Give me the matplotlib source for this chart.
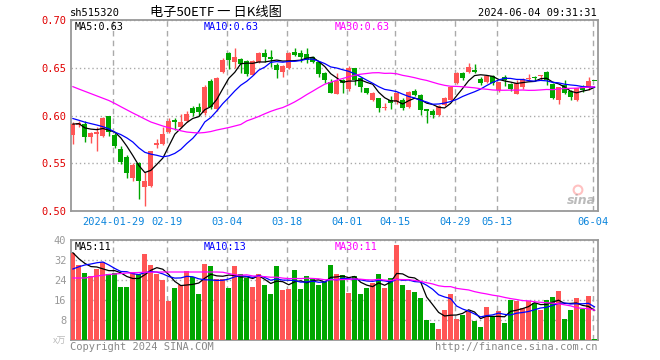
import matplotlib
matplotlib.use('Agg')
import matplotlib.pyplot as plt
import numpy as np
import pandas as pd

# daily candles, 2024-01-18 .. 2024-06-04
opens = [0.580, 0.590, 0.591, 0.578, 0.581, 0.5785, 0.5995, 0.580, 0.5646, 0.557,
         0.535, 0.550, 0.5255, 0.526, 0.569, 0.570, 0.583, 0.5953, 0.588, 0.5942,
         0.6075, 0.609, 0.6023, 0.636, 0.607, 0.646, 0.665, 0.6563, 0.659, 0.657,
         0.6427, 0.6563, 0.665, 0.6616, 0.6529, 0.6459, 0.6494, 0.666, 0.665, 0.664,
         0.661, 0.6563, 0.6448, 0.6354, 0.6225, 0.6372, 0.6274, 0.6494, 0.639, 0.6285,
         0.6162, 0.618, 0.6075, 0.6162, 0.6145, 0.6162, 0.6093, 0.626, 0.6215, 0.6065,
         0.605, 0.6005, 0.611, 0.6162, 0.6337, 0.6448, 0.6459, 0.6476, 0.6382, 0.6354,
         0.6417, 0.6267, 0.6406, 0.633, 0.623, 0.630, 0.638, 0.6398, 0.6412, 0.6459,
         0.633, 0.6162, 0.632, 0.6255, 0.6162, 0.6302, 0.6285, 0.6366]
highs = [0.593, 0.594, 0.594, 0.583, 0.588, 0.598, 0.600, 0.582, 0.568, 0.5586,
         0.5506, 0.551, 0.541, 0.563, 0.575, 0.5876, 0.597, 0.597, 0.6016, 0.6047,
         0.610, 0.613, 0.632, 0.638, 0.6406, 0.660, 0.666, 0.671, 0.660, 0.658,
         0.658, 0.666, 0.670, 0.6686, 0.655, 0.653, 0.667, 0.671, 0.669, 0.671,
         0.662, 0.657, 0.646, 0.638, 0.6442, 0.638, 0.652, 0.650, 0.640, 0.629,
         0.6245, 0.6185, 0.6128, 0.6204, 0.6245, 0.618, 0.626, 0.628, 0.622, 0.607,
         0.607, 0.611, 0.619, 0.631, 0.646, 0.646, 0.6546, 0.6535, 0.640, 0.6425,
         0.6425, 0.6355, 0.642, 0.634, 0.637, 0.639, 0.643, 0.6415, 0.642, 0.6465,
         0.634, 0.630, 0.6375, 0.627, 0.629, 0.6316, 0.6407, 0.6366]
lows = [0.570, 0.588, 0.572, 0.5715, 0.563, 0.577, 0.579, 0.5655, 0.549, 0.535,
        0.531, 0.513, 0.505, 0.525, 0.5656, 0.569, 0.582, 0.585, 0.587, 0.593,
        0.599, 0.599, 0.601, 0.607, 0.6047, 0.645, 0.649, 0.6494, 0.644, 0.641,
        0.642, 0.655, 0.6563, 0.651, 0.639, 0.640, 0.649, 0.662, 0.656, 0.655,
        0.655, 0.6406, 0.6337, 0.6235, 0.622, 0.624, 0.626, 0.632, 0.625, 0.622,
        0.615, 0.604, 0.6058, 0.607, 0.612, 0.6055, 0.608, 0.620, 0.6005, 0.5918,
        0.597, 0.5995, 0.610, 0.615, 0.633, 0.637, 0.645, 0.644, 0.632, 0.634,
        0.632, 0.625, 0.6305, 0.626, 0.622, 0.628, 0.637, 0.636, 0.637, 0.632,
        0.6175, 0.6117, 0.622, 0.6165, 0.615, 0.625, 0.627, 0.636]
closes = [0.591, 0.592, 0.578, 0.582, 0.583, 0.597, 0.583, 0.568, 0.5516, 0.5395,
          0.548, 0.531, 0.5314, 0.5628, 0.571, 0.5806, 0.594, 0.5935, 0.5935, 0.6013,
          0.6023, 0.6034, 0.630, 0.609, 0.6396, 0.658, 0.658, 0.6616, 0.6536, 0.643,
          0.657, 0.665, 0.6616, 0.659, 0.6476, 0.6518, 0.6658, 0.663, 0.6616, 0.658,
          0.6565, 0.6435, 0.637, 0.6239, 0.6361, 0.6337, 0.6494, 0.6372, 0.630, 0.6232,
          0.6239, 0.6075, 0.6085, 0.6134, 0.6232, 0.6075, 0.6249, 0.6215, 0.6058, 0.605,
          0.6005, 0.6103, 0.618, 0.6295, 0.6448, 0.639, 0.6505, 0.6453, 0.6337, 0.6417,
          0.6337, 0.6347, 0.6372, 0.6277, 0.6345, 0.638, 0.639, 0.6392, 0.6418, 0.6372,
          0.618, 0.6295, 0.6232, 0.6195, 0.6285, 0.6267, 0.6361, 0.6362]
volumes = [34.9, 30.1, 26.9, 25.6, 28.5, 31.2, 26.5, 26.9, 21.2, 21.2,
           27.2, 26.5, 34.4, 30.1, 26.5, 24.0, 15.7, 20.8, 21.9, 27.6,
           25.3, 18.4, 30.5, 29.6, 24.5, 24.5, 20.8, 29.6, 26.5, 24.9,
           21.2, 26.5, 22.1, 18.4, 29.6, 20.0, 20.4, 28.0, 20.4, 25.6,
           24.3, 22.1, 23.2, 30.1, 26.5, 26.0, 18.9, 25.6, 18.5, 20.8,
           22.9, 26.5, 20.8, 24.8, 38.1, 22.0, 20.0, 19.2, 16.8, 8.0,
           6.8, 4.4, 12.0, 18.4, 8.4, 10.0, 11.6, 7.6, 5.2, 13.2,
           9.6, 11.6, 6.8, 16.0, 15.6, 12.8, 15.6, 14.8, 12.0, 16.0,
           17.2, 19.6, 8.4, 12.0, 16.8, 12.4, 17.6, 0.4]

# averages at the left edge reach back before the first candle
price_ma10_head = [0.5968, 0.595, 0.593, 0.5915, 0.590, 0.5883, 0.586, 0.5825, 0.580]
price_ma30_head = [0.6302, 0.6277, 0.6253, 0.6229, 0.6205, 0.6181, 0.6157, 0.6126, 0.6092, 0.6059,
                   0.6026, 0.5995, 0.5963, 0.5932, 0.5911, 0.589, 0.5872, 0.5856, 0.584, 0.5827,
                   0.5821, 0.5817, 0.5822, 0.5832, 0.5848, 0.5861, 0.5874, 0.589, 0.5906]
vol_ma10_head = [28.4, 29.3, 30.0, 30.4, 30.9, 31.2, 30.0, 28.6, 27.4]
vol_ma30_head = [24.8, 24.8, 24.8, 25.2, 25.6, 25.9, 26.2, 26.4, 26.6, 26.8,
                 26.9, 27.0, 27.1, 27.1, 27.2, 27.2, 27.2, 27.2, 27.2, 27.2,
                 27.2, 27.2, 27.2, 27.2, 27.2, 27.1, 26.6, 26.1, 25.9]

tick_idx = [7, 16, 26, 36, 46, 54, 64, 71, 87]
tick_labels = ['2024-01-29', '02-19', '03-04', '03-18', '04-01', '04-15', '04-29', '05-13', '06-04']

RED = '#ff5555'
GREEN = '#00a600'
GRAY = '#999999'
MONO = 'DejaVu Sans Mono'
CJK = ['Noto Sans CJK SC', 'DejaVu Sans']


def moving_avg(vals, n, head=()):
    s = pd.Series(vals).rolling(n, min_periods=1).mean().to_numpy()
    s[:len(head)] = head
    return s


x = np.arange(len(closes))
o = np.array(opens); c = np.array(closes)
up = c >= o
cols = np.where(up, RED, GREEN)

ma5 = moving_avg(closes, 5)
ma10 = moving_avg(closes, 10, price_ma10_head)
ma30 = moving_avg(closes, 30, price_ma30_head)
vma5 = moving_avg(volumes, 5)
vma10 = moving_avg(volumes, 10, vol_ma10_head)
vma30 = moving_avg(volumes, 30, vol_ma30_head)

fig = plt.figure(figsize=(6.6, 3.6), dpi=100)
W, H = 660.0, 360.0
ax = fig.add_axes([70.5 / W, 1 - 211 / H, 527 / W, 191 / H])
axv = fig.add_axes([70.5 / W, 1 - 340 / H, 527 / W, 100 / H])

# candles
body = np.maximum(np.abs(c - o), 0.0009)
ax.vlines(x, lows, highs, colors=cols, lw=1, zorder=3)
ax.bar(x, body, bottom=np.minimum(o, c), width=0.8, color=cols, zorder=4, linewidth=0)

ax.plot(x, ma5, color='black', lw=0.9, zorder=5)
ax.plot(x, ma10, color='#0000ff', lw=0.9, zorder=5)
ax.plot(x, ma30, color='#ff00ff', lw=0.9, zorder=5)

axv.bar(x, volumes, width=0.8, color=cols, linewidth=0, zorder=3)
axv.plot(x, vma5, color='black', lw=0.9, zorder=5)
axv.plot(x, vma10, color='#0000ff', lw=0.9, zorder=5)
axv.plot(x, vma30, color='#ff00ff', lw=0.9, zorder=5)

for a in (ax, axv):
    a.set_xlim(-0.4, 87.5)
    a.set_xticks(np.array(tick_idx) - 0.3)
    a.tick_params(length=0)
    a.xaxis.grid(True, ls=(0, (4, 3)), color='#aaaaaa', lw=1)
    a.yaxis.grid(True, ls=(0, (1, 2)), color='#aaaaaa', lw=1)
    a.set_axisbelow(True)
    for sp in a.spines.values():
        sp.set_color(GRAY)
        sp.set_linewidth(1.3)

ax.set_ylim(0.50, 0.70)
ax.set_yticks([0.50, 0.55, 0.60, 0.65, 0.70])
ax.set_yticklabels(['0.50', '0.55', '0.60', '0.65', '0.70'], fontfamily=MONO, fontsize=7.5, color='#e00000')
ax.set_xticklabels(tick_labels, fontfamily=MONO, fontsize=7.5, color='#0a84dc')
ax.tick_params(axis='y', pad=3)
ax.tick_params(axis='x', pad=4)

axv.set_ylim(0, 40)
axv.set_yticks([8, 16, 24, 32, 40])
axv.set_yticklabels(['8', '16', '24', '32', '40'], fontfamily=MONO, fontsize=7.5, color=GRAY)
axv.tick_params(axis='y', pad=3)
axv.set_xticklabels([])


def px(xp, yp):
    return xp / W, 1 - yp / H


fig.text(*px(70, 13), 'sh515320', fontfamily=MONO, fontsize=7.5, va='center', ha='left')
fig.text(*px(216, 12), '电子50ETF 一 日K线图', fontfamily=CJK, fontsize=9.5, va='center', ha='center')
fig.text(*px(597, 13), '2024-06-04 09:31:31', fontfamily=MONO, fontsize=7.5, va='center', ha='right')

fig.text(*px(75, 27), f'MA5:{ma5[-1]:.2f}', fontfamily=MONO, fontsize=7.3, color='black', va='center')
fig.text(*px(204, 27), f'MA10:{ma10[-1]:.2f}', fontfamily=MONO, fontsize=7.3, color='#0000ff', va='center')
fig.text(*px(335, 27), f'MA30:{ma30[-1]:.2f}', fontfamily=MONO, fontsize=7.3, color='#ff00ff', va='center')

fig.text(*px(75, 247), f'MA5:{int(vma5[-1])}', fontfamily=MONO, fontsize=7.3, color='black', va='center')
fig.text(*px(204, 247), f'MA10:{int(vma10[-1])}', fontfamily=MONO, fontsize=7.3, color='#0000ff', va='center')
fig.text(*px(335, 247), f'MA30:{int(vma30[-1])}', fontfamily=MONO, fontsize=7.3, color='#ff00ff', va='center')

fig.text(*px(66, 341), 'x万', fontfamily=CJK, fontsize=6.5, color='#bbbbbb', va='center', ha='right')
fig.text(*px(70, 347), 'Copyright 2024 SINA.COM', fontfamily=MONO, fontsize=7.5, color='#888888', va='center')
fig.text(*px(597, 347), 'http://finance.sina.com.cn', fontfamily=MONO, fontsize=7.5, color='#888888', va='center', ha='right')

# faint sina watermark: red eye above grey word
ax.scatter([0.963], [0.11], s=40, facecolors='none', edgecolors='#ff9999', linewidths=1.5,
           alpha=0.6, transform=ax.transAxes, zorder=2)
fig.text(*px(581, 201), 'sina', fontfamily='DejaVu Sans', fontsize=9, fontweight='bold', style='italic',
         color='#aaaaaa', alpha=0.8, va='center', ha='center')

fig.savefig('out.png', dpi=100)
